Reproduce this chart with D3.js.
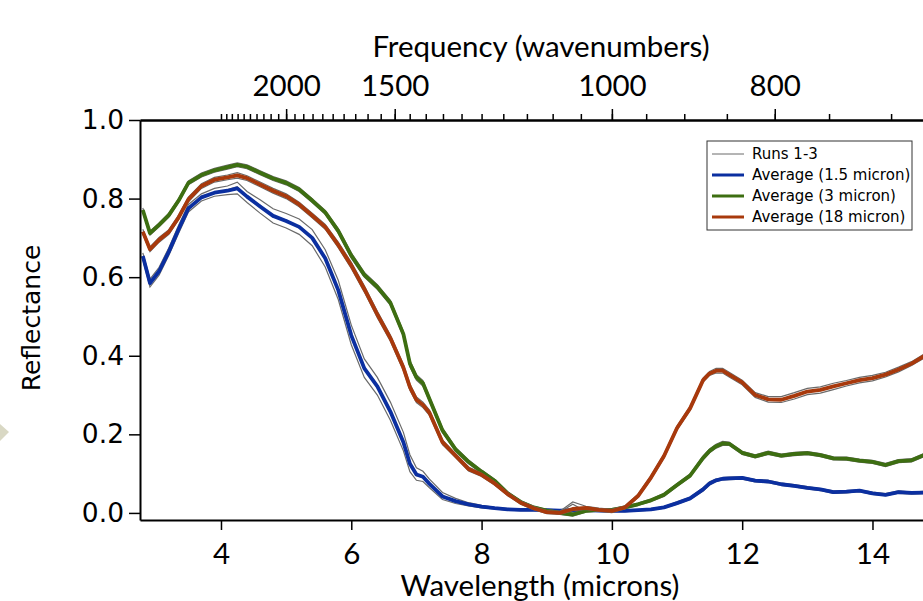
<!DOCTYPE html>
<html>
<head>
<meta charset="utf-8">
<script src="https://cdn.jsdelivr.net/npm/d3@7"></script>
<style>
  body { margin: 0; background: #fff; }
  svg { display: block; }
  .tick text { fill: #000; }
</style>
</head>
<body>
<div id="chart"></div>
<script>
// wavelength grid (microns) shared by every series
const wavelength = [2.80, 2.91, 3.05, 3.2, 3.35, 3.5, 3.7, 3.9, 4.1, 4.25, 4.4, 4.6, 4.8, 5.0, 5.2, 5.4, 5.6, 5.8,
  6.0, 6.2, 6.4, 6.6, 6.8, 6.9, 7.0, 7.1, 7.2, 7.4, 7.6, 7.8, 8.0, 8.2, 8.4, 8.6, 8.8, 9.0, 9.2, 9.4, 9.6, 9.8,
  10.0, 10.2, 10.4, 10.6, 10.8, 11.0, 11.2, 11.4, 11.5, 11.6, 11.7, 11.8, 12.0, 12.2, 12.4, 12.6, 12.8,
  13.0, 13.2, 13.4, 13.6, 13.8, 14.0, 14.2, 14.4, 14.6, 14.8];

const avg15 = [0.654, 0.585, 0.615, 0.665, 0.722, 0.775, 0.803, 0.815, 0.820, 0.826, 0.805, 0.780, 0.756, 0.743, 0.728, 0.700, 0.648, 0.567,
  0.452, 0.368, 0.322, 0.258, 0.180, 0.125, 0.098, 0.092, 0.074, 0.042, 0.030, 0.022, 0.016, 0.012, 0.009, 0.008, 0.008, 0.007, 0.006, 0.007, 0.007, 0.006,
  0.005, 0.005, 0.007, 0.009, 0.014, 0.025, 0.037, 0.060, 0.075, 0.083, 0.087, 0.088, 0.089, 0.082, 0.080, 0.073, 0.069,
  0.064, 0.060, 0.053, 0.054, 0.057, 0.050, 0.046, 0.053, 0.051, 0.052];

const avg3 = [0.771, 0.712, 0.733, 0.758, 0.795, 0.840, 0.860, 0.872, 0.880, 0.886, 0.881, 0.866, 0.851, 0.840, 0.823, 0.795, 0.765, 0.718,
  0.655, 0.606, 0.575, 0.535, 0.455, 0.380, 0.345, 0.330, 0.290, 0.210, 0.162, 0.130, 0.105, 0.082, 0.050, 0.028, 0.014, 0.006, 0.000, -0.004, 0.005, 0.008,
  0.008, 0.014, 0.022, 0.032, 0.046, 0.071, 0.095, 0.140, 0.158, 0.170, 0.177, 0.176, 0.153, 0.144, 0.153, 0.146, 0.150,
  0.152, 0.147, 0.139, 0.138, 0.133, 0.130, 0.122, 0.132, 0.134, 0.148];

const avg18 = [0.716, 0.671, 0.695, 0.715, 0.752, 0.798, 0.832, 0.848, 0.854, 0.859, 0.852, 0.836, 0.820, 0.806, 0.785, 0.757, 0.728, 0.682,
  0.630, 0.570, 0.505, 0.445, 0.370, 0.320, 0.288, 0.275, 0.255, 0.180, 0.146, 0.112, 0.097, 0.075, 0.048, 0.026, 0.012, 0.002, 0.000, 0.010, 0.013, 0.008,
  0.005, 0.014, 0.043, 0.090, 0.145, 0.216, 0.266, 0.338, 0.355, 0.362, 0.362, 0.352, 0.332, 0.300, 0.289, 0.288, 0.298,
  0.309, 0.313, 0.322, 0.330, 0.338, 0.343, 0.352, 0.365, 0.380, 0.400];

// individual runs 1-3 for each grain size
const runs15 = [
  [0.662, 0.595, 0.625, 0.675, 0.732, 0.785, 0.812, 0.826, 0.832, 0.842, 0.818, 0.797, 0.774, 0.762, 0.748, 0.721, 0.670, 0.592,
   0.478, 0.392, 0.345, 0.282, 0.205, 0.148, 0.115, 0.106, 0.086, 0.052, 0.037, 0.026, 0.019, 0.014, 0.011, 0.010, 0.009, 0.009, 0.008, 0.010, 0.008, 0.007,
   0.007, 0.006, 0.008, 0.011, 0.016, 0.028, 0.040, 0.064, 0.079, 0.086, 0.090, 0.091, 0.092, 0.085, 0.083, 0.076, 0.072,
   0.067, 0.062, 0.056, 0.057, 0.059, 0.053, 0.049, 0.056, 0.053, 0.055],
  [0.645, 0.575, 0.605, 0.656, 0.712, 0.766, 0.794, 0.806, 0.810, 0.812, 0.790, 0.763, 0.738, 0.725, 0.709, 0.680, 0.626, 0.543,
   0.428, 0.345, 0.300, 0.236, 0.158, 0.105, 0.083, 0.080, 0.064, 0.034, 0.024, 0.018, 0.013, 0.010, 0.007, 0.006, 0.006, 0.005, 0.004, 0.005, 0.005, 0.004,
   0.003, 0.003, 0.005, 0.007, 0.012, 0.022, 0.034, 0.056, 0.071, 0.080, 0.084, 0.085, 0.086, 0.079, 0.077, 0.070, 0.066,
   0.061, 0.057, 0.050, 0.051, 0.054, 0.047, 0.044, 0.050, 0.048, 0.049],
  [0.650, 0.582, 0.618, 0.662, 0.725, 0.772, 0.806, 0.813, 0.823, 0.830, 0.803, 0.783, 0.753, 0.746, 0.725, 0.703, 0.645, 0.570,
   0.449, 0.371, 0.319, 0.261, 0.177, 0.128, 0.095, 0.095, 0.071, 0.045, 0.028, 0.024, 0.015, 0.013, 0.008, 0.009, 0.007, 0.008, 0.005, 0.008, 0.006, 0.007,
   0.004, 0.006, 0.006, 0.010, 0.013, 0.026, 0.036, 0.061, 0.074, 0.084, 0.086, 0.089, 0.088, 0.083, 0.079, 0.074, 0.068,
   0.065, 0.059, 0.054, 0.053, 0.058, 0.049, 0.047, 0.052, 0.052, 0.051]
];

const runs3 = [
  [0.776, 0.717, 0.738, 0.763, 0.800, 0.845, 0.865, 0.877, 0.885, 0.891, 0.886, 0.871, 0.856, 0.845, 0.828, 0.800, 0.770, 0.724,
   0.662, 0.612, 0.581, 0.541, 0.462, 0.388, 0.352, 0.337, 0.296, 0.216, 0.167, 0.135, 0.109, 0.086, 0.054, 0.031, 0.017, 0.009, 0.004, 0.000, 0.008, 0.011,
   0.011, 0.017, 0.025, 0.035, 0.050, 0.075, 0.099, 0.145, 0.163, 0.175, 0.182, 0.180, 0.157, 0.148, 0.157, 0.150, 0.154,
   0.156, 0.151, 0.143, 0.142, 0.137, 0.134, 0.126, 0.136, 0.138, 0.152],
  [0.766, 0.707, 0.728, 0.753, 0.790, 0.835, 0.855, 0.867, 0.875, 0.881, 0.876, 0.861, 0.846, 0.835, 0.818, 0.790, 0.760, 0.712,
   0.648, 0.600, 0.569, 0.529, 0.448, 0.372, 0.338, 0.323, 0.284, 0.204, 0.157, 0.125, 0.101, 0.078, 0.046, 0.025, 0.011, 0.003, -0.004, -0.008, 0.002, 0.005,
   0.005, 0.011, 0.019, 0.029, 0.042, 0.067, 0.091, 0.135, 0.153, 0.165, 0.172, 0.172, 0.149, 0.140, 0.149, 0.142, 0.146,
   0.148, 0.143, 0.135, 0.134, 0.129, 0.126, 0.118, 0.128, 0.130, 0.144],
  [0.770, 0.714, 0.731, 0.760, 0.793, 0.842, 0.858, 0.874, 0.878, 0.889, 0.879, 0.868, 0.849, 0.842, 0.821, 0.797, 0.763, 0.720,
   0.653, 0.608, 0.573, 0.538, 0.452, 0.383, 0.343, 0.333, 0.288, 0.213, 0.160, 0.132, 0.103, 0.084, 0.048, 0.030, 0.012, 0.008, 0.002, 0.022, 0.004, 0.010,
   0.006, 0.015, 0.020, 0.034, 0.044, 0.073, 0.093, 0.142, 0.156, 0.172, 0.175, 0.178, 0.151, 0.146, 0.151, 0.148, 0.148,
   0.154, 0.145, 0.141, 0.136, 0.135, 0.128, 0.124, 0.130, 0.136, 0.146]
];

const runs18 = [
  [0.722, 0.677, 0.701, 0.721, 0.758, 0.804, 0.838, 0.854, 0.860, 0.866, 0.858, 0.842, 0.826, 0.812, 0.791, 0.763, 0.734, 0.689,
   0.638, 0.578, 0.513, 0.453, 0.378, 0.328, 0.295, 0.282, 0.262, 0.186, 0.151, 0.117, 0.101, 0.079, 0.052, 0.030, 0.016, 0.006, 0.004, 0.028, 0.017, 0.012,
   0.009, 0.018, 0.047, 0.095, 0.150, 0.221, 0.271, 0.343, 0.360, 0.368, 0.368, 0.358, 0.338, 0.306, 0.296, 0.296, 0.306,
   0.317, 0.321, 0.330, 0.337, 0.345, 0.350, 0.358, 0.371, 0.385, 0.405],
  [0.710, 0.665, 0.689, 0.709, 0.746, 0.792, 0.826, 0.842, 0.848, 0.852, 0.846, 0.830, 0.814, 0.800, 0.779, 0.751, 0.722, 0.675,
   0.622, 0.562, 0.497, 0.437, 0.362, 0.312, 0.281, 0.268, 0.248, 0.174, 0.141, 0.107, 0.093, 0.071, 0.044, 0.022, 0.008, -0.002, -0.004, 0.006, 0.009, 0.004,
   0.001, 0.010, 0.039, 0.085, 0.140, 0.211, 0.261, 0.333, 0.350, 0.356, 0.356, 0.346, 0.326, 0.294, 0.282, 0.281, 0.290,
   0.301, 0.305, 0.314, 0.323, 0.331, 0.336, 0.346, 0.359, 0.375, 0.395],
  [0.714, 0.673, 0.692, 0.718, 0.750, 0.800, 0.830, 0.850, 0.852, 0.861, 0.850, 0.838, 0.818, 0.808, 0.783, 0.759, 0.726, 0.684,
   0.628, 0.572, 0.503, 0.447, 0.368, 0.322, 0.286, 0.277, 0.253, 0.182, 0.144, 0.114, 0.095, 0.077, 0.046, 0.028, 0.010, 0.004, 0.002, 0.012, 0.011, 0.010,
   0.003, 0.016, 0.041, 0.092, 0.143, 0.218, 0.264, 0.340, 0.353, 0.364, 0.360, 0.354, 0.330, 0.302, 0.287, 0.290, 0.296,
   0.311, 0.311, 0.324, 0.328, 0.340, 0.341, 0.354, 0.363, 0.382, 0.398]
];

const yTicks = [0, 0.2, 0.4, 0.6, 0.8, 1.0];
const xTicks = [4, 6, 8, 10, 12, 14];
const freqLabels = [2000, 1500, 1000, 800];
const freqMinor = d3.range(2500, 649, -50);

const legendItems = ["Runs 1-3", "Average (1.5 micron)", "Average (3 micron)", "Average (18 micron)"];

const colors = { runs: "#6a6a6a", avg15: "#0b2fa0", avg3: "#3d6e11", avg18: "#a8390c" };

const W = 923, H = 601;
const svg = d3.select("#chart").append("svg")
  .attr("width", W)
  .attr("height", H);

const x = d3.scaleLinear().domain([2.757, 15]).range([140, 140 + (15 - 2.757) * 65.15]);
const y = d3.scaleLinear().domain([-0.018, 1.0]).range([520, 120]);

const tickFont = "'DejaVu Sans', Verdana, sans-serif";
const titleFont = "Lato, 'Open Sans', sans-serif";

// little slide decoration on the left edge
svg.append("path")
  .attr("d", "M0,424 L9,432 L0,441 Z")
  .attr("fill", "#d9d8c4");

svg.append("defs").append("clipPath").attr("id", "plotClip")
  .append("rect").attr("x", 141).attr("y", 110).attr("width", 800).attr("height", 409);

const plot = svg.append("g").attr("clip-path", "url(#plotClip)");

const line = d3.line()
  .x((d, i) => x(wavelength[i]))
  .y(d => y(d));

const groups = [
  { runs: runs15, avg: avg15, color: colors.avg15 },
  { runs: runs3, avg: avg3, color: colors.avg3 },
  { runs: runs18, avg: avg18, color: colors.avg18 }
];

groups.forEach(g => {
  g.runs.forEach(r => {
    plot.append("path")
      .datum(r)
      .attr("fill", "none")
      .attr("stroke", colors.runs)
      .attr("stroke-width", 1.2)
      .attr("d", line);
  });
  plot.append("path")
    .datum(g.avg)
    .attr("fill", "none")
    .attr("stroke", g.color)
    .attr("stroke-width", 3.8)
    .attr("stroke-linejoin", "round")
    .attr("d", line);
});

// Left axis
const yAxis = svg.append("g")
  .attr("transform", "translate(140,0)")
  .call(d3.axisLeft(y).tickValues(yTicks).tickFormat(d3.format(".1f")).tickSize(11).tickSizeOuter(0).tickPadding(5));
yAxis.selectAll("text").style("font-family", tickFont).style("font-size", "26.5px");

// Bottom axis
const xAxis = svg.append("g")
  .attr("transform", "translate(0,520)")
  .call(d3.axisBottom(x).tickValues(xTicks).tickSize(10).tickSizeOuter(0).tickPadding(13));
xAxis.selectAll("text").style("font-family", titleFont).style("font-size", "29.5px");

// Top axis: wavenumbers placed on the wavelength scale
const topMinor = svg.append("g")
  .attr("transform", "translate(0,120)")
  .call(d3.axisTop(x).tickValues(freqMinor.map(f => 10000 / f)).tickFormat("").tickSize(6).tickSizeOuter(0));
const topMajor = svg.append("g")
  .attr("transform", "translate(0,120)")
  .call(d3.axisTop(x).tickValues(freqLabels.map(f => 10000 / f)).tickFormat(d => Math.round(10000 / d)).tickSize(11).tickSizeOuter(0).tickPadding(13));
topMajor.selectAll("text").style("font-family", titleFont).style("font-size", "29.5px");

[yAxis, xAxis, topMinor, topMajor].forEach(a => {
  a.selectAll(".domain").attr("stroke", "#000").attr("stroke-width", 2);
  a.selectAll(".tick line").attr("stroke", "#000").attr("stroke-width", 1.5);
});

// Axis titles
svg.append("text")
  .attr("x", 541).attr("y", 57)
  .attr("text-anchor", "middle")
  .style("font-family", titleFont).style("font-size", "29.5px")
  .text("Frequency (wavenumbers)");

svg.append("text")
  .attr("x", 540).attr("y", 596)
  .attr("text-anchor", "middle")
  .style("font-family", titleFont).style("font-size", "29.5px")
  .text("Wavelength (microns)");

svg.append("text")
  .attr("transform", "translate(40,318) rotate(-90)")
  .attr("text-anchor", "middle")
  .style("font-family", tickFont).style("font-size", "25px")
  .text("Reflectance");

// Legend
const legend = svg.append("g").attr("transform", "translate(707,141)");
legend.append("rect")
  .attr("width", 205).attr("height", 89)
  .attr("fill", "#fff").attr("stroke", "#333").attr("stroke-width", 1);

const legendColors = [colors.runs, colors.avg15, colors.avg3, colors.avg18];
legendItems.forEach((label, i) => {
  const row = legend.append("g").attr("transform", `translate(0,${13 + i * 21})`);
  row.append("line")
    .attr("x1", 5).attr("x2", 37)
    .attr("stroke", legendColors[i])
    .attr("stroke-width", i === 0 ? 1 : 3);
  row.append("text")
    .attr("x", 45).attr("dy", "0.35em")
    .style("font-family", tickFont).style("font-size", "15px")
    .text(label);
});
</script>
</body>
</html>
